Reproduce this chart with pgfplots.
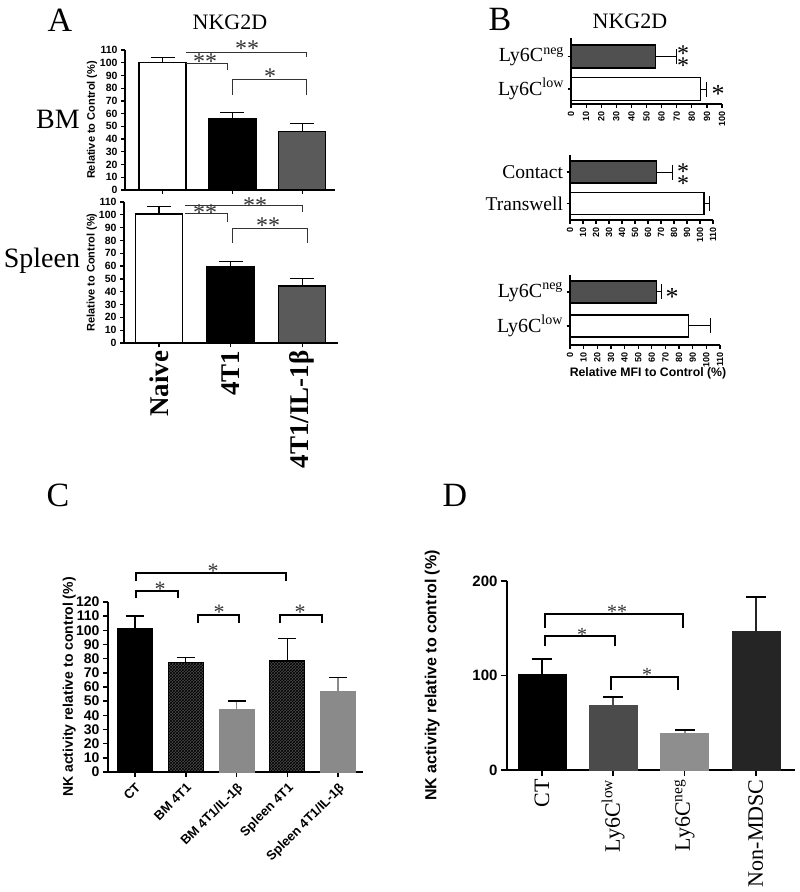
\documentclass[border=0pt]{standalone}
\usepackage{pgfplots}
\pgfplotsset{compat=1.18}
\usepackage{fontspec}
\setmainfont{Liberation Serif}
\setsansfont{Liberation Sans}
\usetikzlibrary{patterns}
\definecolor{gA}{HTML}{5A5A5A}
\definecolor{gB}{HTML}{505050}
\definecolor{gC}{HTML}{8A8A8A}
\definecolor{hC}{HTML}{4A4A4A}
\definecolor{dLow}{HTML}{4B4B4B}
\definecolor{dNeg}{HTML}{8E8E8E}
\definecolor{dNon}{HTML}{252525}
\definecolor{brk}{HTML}{333333}
\newcommand{\fs}[1]{\fontsize{#1pt}{#1pt}\selectfont}
\newcommand{\stars}[4]{\node[font=\rmfamily\fs{#3}, inner sep=0pt, text=#4] at (#1) {#2};}
\pgfplotsset{
  gp/.style={scale only axis, anchor=south west, clip=false,
    axis lines*=left, axis line style={-, line width=1.6pt},
    tick style={line width=1.2pt, black}, tick align=outside, major tick length=4pt,
    /pgf/number format/assume math mode=true,
    yticklabel style={font=\sffamily\bfseries\fs{10.5}},
    xticklabel style={font=\sffamily\bfseries\fs{10.5}},
    label style={font=\sffamily\bfseries\fs{11}},
  },
  vb/.style={ybar, bar shift=0pt, bar width=#1},
  hb/.style={xbar, bar shift=0pt, bar width=#1},
}
\begin{document}
\begin{tikzpicture}
\path[use as bounding box] (0,0) rectangle (800pt,-892pt);
% ---------------- Panel A : BM
\begin{axis}[gp, at={(125pt,-190pt)}, width=210pt, height=140pt,
  xmin=-0.54, xmax=2.47, ymin=0, ymax=110, ytick={0,10,...,110}, xtick={0,1,2}, xticklabels={},
  ylabel={Relative to Control (\%)}, ylabel style={at={(axis description cs:-0.157,0.5)}, anchor=center},
  error bars/y dir=plus, error bars/y explicit,
  error bars/error bar style={line width=1.2pt},
  error bars/error mark options={rotate=90, line width=1.2pt, mark size=12pt}]
\addplot[vb=47pt, draw=black, fill=white, line width=1.4pt] coordinates {(0,100) +- (0,4.2)};
\addplot[vb=47pt, draw=black, fill=black, line width=1.4pt] coordinates {(1,55.8) +- (0,5.2)};
\addplot[vb=47pt, draw=black, fill=gA, line width=1.4pt] coordinates {(2,45.8) +- (0,6.6)};
\end{axis}
% ---------------- Panel A : Spleen
\begin{axis}[gp, at={(124pt,-343pt)}, width=214pt, height=141pt,
  xmin=-0.49, xmax=2.5, ymin=0, ymax=110, ytick={0,10,...,110}, xtick={0,1,2},
  xticklabels={Naive,4T1,4T1/IL-1β},
  xticklabel style={rotate=90, anchor=east, font=\rmfamily\bfseries\fs{27}},
  ylabel={Relative to Control (\%)}, ylabel style={at={(axis description cs:-0.15,0.5)}, anchor=center},
  error bars/y dir=plus, error bars/y explicit,
  error bars/error bar style={line width=1.2pt},
  error bars/error mark options={rotate=90, line width=1.2pt, mark size=12pt}]
\addplot[vb=47pt, draw=black, fill=white, line width=1.4pt] coordinates {(0,100.5) +- (0,6.3)};
\addplot[vb=47pt, draw=black, fill=black, line width=1.4pt] coordinates {(1,59.5) +- (0,3.9)};
\addplot[vb=47pt, draw=black, fill=gA, line width=1.4pt] coordinates {(2,44.5) +- (0,5.7)};
\end{axis}
% ---------------- Panel B1
\begin{axis}[gp, at={(571pt,-104pt)}, width=151pt, height=66pt,
  xmin=0, xmax=100, xtick={0,10,...,100}, ymin=-0.46, ymax=1.57, ytick={0,1},
  yticklabels={Ly6C\textsuperscript{low},Ly6C\textsuperscript{neg}},
  yticklabel style={font=\rmfamily\fs{20}},
  xticklabel style={rotate=90, anchor=east, font=\sffamily\bfseries\fs{9}},
  major tick length=3.5pt, axis line style={line width=1.3pt},
  error bars/x dir=plus, error bars/x explicit,
  error bars/error bar style={line width=1pt},
  error bars/error mark options={rotate=90, line width=1pt, mark size=7.5pt}]
\addplot[hb=23pt, draw=black, fill=white, line width=1.2pt] coordinates {(85.5,0) +- (4,0)};
\addplot[hb=23pt, draw=black, fill=gB, line width=1.2pt] coordinates {(56,1) +- (14,0)};
\end{axis}
% ---------------- Panel B2
\begin{axis}[gp, at={(570pt,-220pt)}, width=143pt, height=65pt,
  xmin=0, xmax=110, xtick={0,10,...,110}, ymin=-0.52, ymax=1.54, ytick={0,1},
  yticklabels={Transwell,Contact},
  yticklabel style={font=\rmfamily\fs{19.5}},
  xticklabel style={rotate=90, anchor=east, font=\sffamily\bfseries\fs{9}},
  major tick length=3.5pt, axis line style={line width=1.3pt},
  error bars/x dir=plus, error bars/x explicit,
  error bars/error bar style={line width=1pt},
  error bars/error mark options={rotate=90, line width=1pt, mark size=7.5pt}]
\addplot[hb=22pt, draw=black, fill=white, line width=1.2pt] coordinates {(103,0) +- (4,0)};
\addplot[hb=22pt, draw=black, fill=gB, line width=1.2pt] coordinates {(66.7,1) +- (12.3,0)};
\end{axis}
% ---------------- Panel B3
\begin{axis}[gp, at={(570pt,-345pt)}, width=150pt, height=70pt,
  xmin=0, xmax=110, xtick={0,10,...,110}, ymin=-0.56, ymax=1.5, ytick={0,1},
  yticklabels={Ly6C\textsuperscript{low},Ly6C\textsuperscript{neg}},
  yticklabel style={font=\rmfamily\fs{20}},
  xticklabel style={rotate=90, anchor=east, font=\sffamily\bfseries\fs{9}},
  major tick length=3.5pt, axis line style={line width=1.3pt},
  xlabel={Relative MFI to Control (\%)},
  xlabel style={at={(axis description cs:0.52,-0.4)}, anchor=center, font=\sffamily\bfseries\fs{12.3}},
  error bars/x dir=plus, error bars/x explicit,
  error bars/error bar style={line width=1pt},
  error bars/error mark options={rotate=90, line width=1pt, mark size=7.5pt}]
\addplot[hb=22pt, draw=black, fill=white, line width=1.2pt] coordinates {(86.8,0) +- (16.2,0)};
\addplot[hb=22pt, draw=black, fill=gB, line width=1.2pt] coordinates {(63.6,1) +- (3.4,0)};
\end{axis}
% ---------------- Panel C
\begin{axis}[gp, at={(108pt,-772pt)}, width=255pt, height=170pt,
  xmin=-0.53, xmax=4.49, ymin=0, ymax=120, ytick={0,10,...,120}, xtick={0,1,2,3,4},
  xticklabels={CT,BM 4T1,BM 4T1/IL-1β,Spleen 4T1,Spleen 4T1/IL-1β},
  xticklabel style={rotate=45, anchor=north east, font=\sffamily\bfseries\fs{13}},
  yticklabel style={font=\sffamily\bfseries\fs{14}},
  ylabel={NK activity relative to control (\%)},
  ylabel style={at={(axis description cs:-0.152,0.5)}, anchor=center, font=\sffamily\bfseries\fs{14}},
  axis line style={line width=2pt}, tick style={line width=1.6pt}, major tick length=5pt,
  error bars/y dir=plus, error bars/y explicit,
  error bars/error bar style={line width=1.5pt},
  error bars/error mark options={rotate=90, line width=1.5pt, mark size=9pt}]
\addplot[vb=35pt, draw=black, fill=black, line width=1pt] coordinates {(0,101) +- (0,9.3)};
\addplot[vb=35pt, draw=black, fill=hC, line width=1.2pt, postaction={pattern=crosshatch, pattern color=black}] coordinates {(1,77.2) +- (0,3.8)};
\addplot[vb=35pt, draw=gC, fill=gC, line width=1pt] coordinates {(2,44.2) +- (0,5.8)};
\addplot[vb=35pt, draw=black, fill=hC, line width=1.2pt, postaction={pattern=crosshatch, pattern color=black}] coordinates {(3,78.4) +- (0,16)};
\addplot[vb=35pt, draw=gC, fill=gC, line width=1pt] coordinates {(4,56.7) +- (0,10.1)};
\end{axis}
% ---------------- Panel D
\begin{axis}[gp, at={(507pt,-770pt)}, width=288pt, height=189pt,
  xmin=-0.49, xmax=3.55, ymin=0, ymax=200, ytick={0,100,200}, xtick={0,1,2,3},
  xticklabels={CT,Ly6C\textsuperscript{low},Ly6C\textsuperscript{neg},Non-MDSC},
  xticklabel style={rotate=90, anchor=east, font=\rmfamily\fs{22}},
  yticklabel style={font=\sffamily\bfseries\fs{15}},
  ylabel={NK activity relative to control (\%)},
  ylabel style={at={(axis description cs:-0.26,0.5)}, anchor=center, font=\sffamily\bfseries\fs{16}},
  axis line style={line width=2pt}, tick style={line width=1.8pt}, major tick length=6pt,
  error bars/y dir=plus, error bars/y explicit,
  error bars/error bar style={line width=2pt},
  error bars/error mark options={rotate=90, line width=2pt, mark size=10pt}]
\addplot[vb=48pt, draw=black, fill=black] coordinates {(0,101.6) +- (0,16)};
\addplot[vb=48pt, draw=dLow, fill=dLow] coordinates {(1,69) +- (0,8)};
\addplot[vb=48pt, draw=dNeg, fill=dNeg] coordinates {(2,39) +- (0,3)};
\addplot[vb=48pt, draw=dNon, fill=dNon] coordinates {(3,147) +- (0,36)};
\end{axis}
% ---------------- annotations (pixel coordinates, y downward)
\begin{scope}[x=1pt, y=-1pt]
\node[font=\rmfamily\fs{34}, anchor=base] at (60,31) {A};
\node[font=\rmfamily\fs{22}, anchor=base] at (230,29) {NKG2D};
\node[font=\rmfamily\fs{28}, anchor=base] at (58,128) {BM};
\node[font=\rmfamily\fs{28}, anchor=base] at (42,267) {Spleen};
\node[font=\rmfamily\fs{34}, anchor=base] at (500,30) {B};
\node[font=\rmfamily\fs{22}, anchor=base] at (630,28) {NKG2D};
\node[font=\rmfamily\fs{34}, anchor=base] at (58,506) {C};
\node[font=\rmfamily\fs{34}, anchor=base] at (455,506) {D};
% A BM brackets
\draw[brk, line width=0.9pt] (186,63) -- (227,63) -- (227,70);
\draw[brk, line width=0.9pt] (186,52) -- (306,52) -- (306,57);
\draw[brk, line width=0.9pt] (232,95) -- (232,79) -- (306,79) -- (306,95);
\stars{205,62}{**}{24}{brk}
\stars{247,49}{**}{24}{brk}
\stars{270,77}{*}{24}{brk}
% A Spleen brackets
\draw[brk, line width=0.9pt] (185,213) -- (227,213) -- (227,222);
\draw[brk, line width=0.9pt] (185,205) -- (302,205) -- (302,212);
\draw[brk, line width=0.9pt] (232,243) -- (232,228) -- (307,228) -- (307,243);
\stars{205,213}{**}{24}{brk}
\stars{255,206}{**}{24}{brk}
\stars{268,226}{**}{24}{brk}
% B stars
\stars{683,54}{*}{24}{black}
\stars{683,66}{*}{24}{black}
\stars{718,94}{*}{26}{black}
\stars{683,172}{*}{24}{black}
\stars{683,184}{*}{24}{black}
\stars{672,297}{*}{26}{black}
% C brackets
\draw[black, line width=2.5pt] (136,581) -- (136,573) -- (286,573) -- (286,581);
\draw[black, line width=2.5pt] (136,598) -- (136,591) -- (178,591) -- (178,598);
\draw[black, line width=2.5pt] (198,623) -- (198,615) -- (239,615) -- (239,623);
\draw[black, line width=2.5pt] (280,623) -- (280,615) -- (322,615) -- (322,623);
\stars{213,571}{*}{22}{brk}
\stars{160,589}{*}{22}{brk}
\stars{219,612}{*}{22}{brk}
\stars{300,612}{*}{22}{brk}
% D brackets
\draw[black, line width=2pt] (545,628) -- (545,614) -- (683,614) -- (683,628);
\draw[black, line width=2pt] (545,646) -- (545,636) -- (615,636) -- (615,646);
\draw[black, line width=2pt] (611,690) -- (611,677) -- (678,677) -- (678,690);
\stars{617,612}{**}{20}{brk}
\stars{582,635}{*}{20}{brk}
\stars{647,675}{*}{20}{brk}
\end{scope}
\end{tikzpicture}
\end{document}
